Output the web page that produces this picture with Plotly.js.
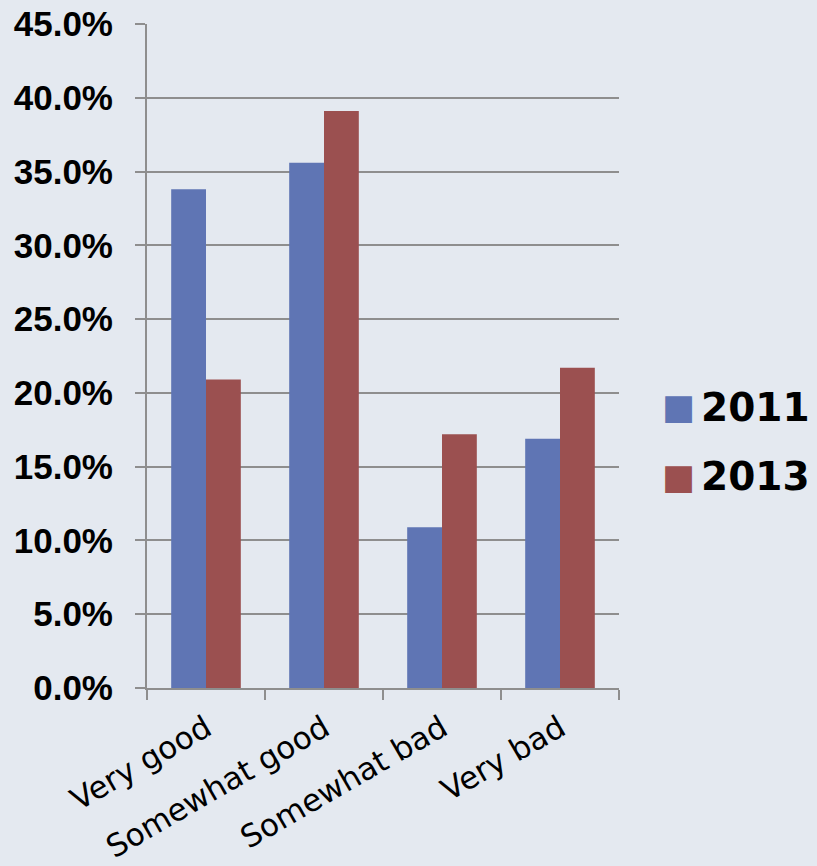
<!DOCTYPE html>
<html>
<head>
<meta charset="utf-8">
<script src="https://cdn.plot.ly/plotly-3.0.1.min.js"></script>
<style>html,body{margin:0;padding:0;background:#e4e9f0;}</style>
</head>
<body>
<div id="chart" style="width:817px;height:866px;"></div>
<script>
var categories = ["Very good", "Somewhat good", "Somewhat bad", "Very bad"];
var seriesNames = ["2011", "2013"];
var values2011 = [33.8, 35.6, 10.9, 16.9];
var values2013 = [20.9, 39.1, 17.2, 21.7];
var seriesColors = ["#5f75b4", "#9b5050"];
var yTickValues = [0, 5, 10, 15, 20, 25, 30, 35, 40, 45];
var yTickLabels = ["0.0%", "5.0%", "10.0%", "15.0%", "20.0%", "25.0%", "30.0%", "35.0%", "40.0%", "45.0%"];

var traces = [
  {type: "bar", name: seriesNames[0], x: categories, y: values2011,
   marker: {color: seriesColors[0]}, showlegend: false, hoverinfo: "x+y"},
  {type: "bar", name: seriesNames[1], x: categories, y: values2013,
   marker: {color: seriesColors[1]}, showlegend: false, hoverinfo: "x+y"}
];

var legendAnnotations = [];
seriesNames.forEach(function (n, i) {
  var yy = 0.423 - i * 0.105;
  legendAnnotations.push({
    xref: "paper", yref: "paper", x: 1.087, y: yy,
    xanchor: "left", yanchor: "middle", showarrow: false,
    text: "\u25A0",
    font: {family: "DejaVu Sans, sans-serif", size: 35, color: seriesColors[i]}
  });
  legendAnnotations.push({
    xref: "paper", yref: "paper", x: 1.170, y: yy,
    xanchor: "left", yanchor: "middle", showarrow: false,
    text: "<b>" + n + "</b>",
    font: {family: "DejaVu Sans, sans-serif", size: 39, color: "#000"}
  });
});

var layout = {
  width: 817, height: 866,
  paper_bgcolor: "#e4e9f0", plot_bgcolor: "#e4e9f0",
  margin: {l: 147, r: 198, t: 24, b: 178},
  barmode: "group", bargap: 0.41, bargroupgap: 0,
  showlegend: false,
  xaxis: {
    type: "category", tickson: "boundaries", ticks: "outside", ticklen: 10,
    tickwidth: 2, tickcolor: "#8e8e8e", showline: true, linecolor: "#8e8e8e", linewidth: 2,
    showgrid: false, tickangle: -30, ticklabelstandoff: 8,
    tickfont: {family: "DejaVu Sans, sans-serif", size: 31, color: "#000"}
  },
  yaxis: {
    range: [0, 45], tickvals: yTickValues, ticktext: yTickLabels,
    ticks: "outside", ticklen: 10, tickwidth: 2, tickcolor: "#8e8e8e",
    showline: true, linecolor: "#8e8e8e", linewidth: 2,
    showgrid: true, gridcolor: "#8e8e8e", gridwidth: 2, zeroline: false,
    ticklabelstandoff: 15,
    tickfont: {family: "Liberation Sans, Arial, sans-serif", size: 35, color: "#000", weight: "bold"}
  },
  annotations: legendAnnotations
};

Plotly.newPlot("chart", traces, layout, {displayModeBar: false});
</script>
</body>
</html>
